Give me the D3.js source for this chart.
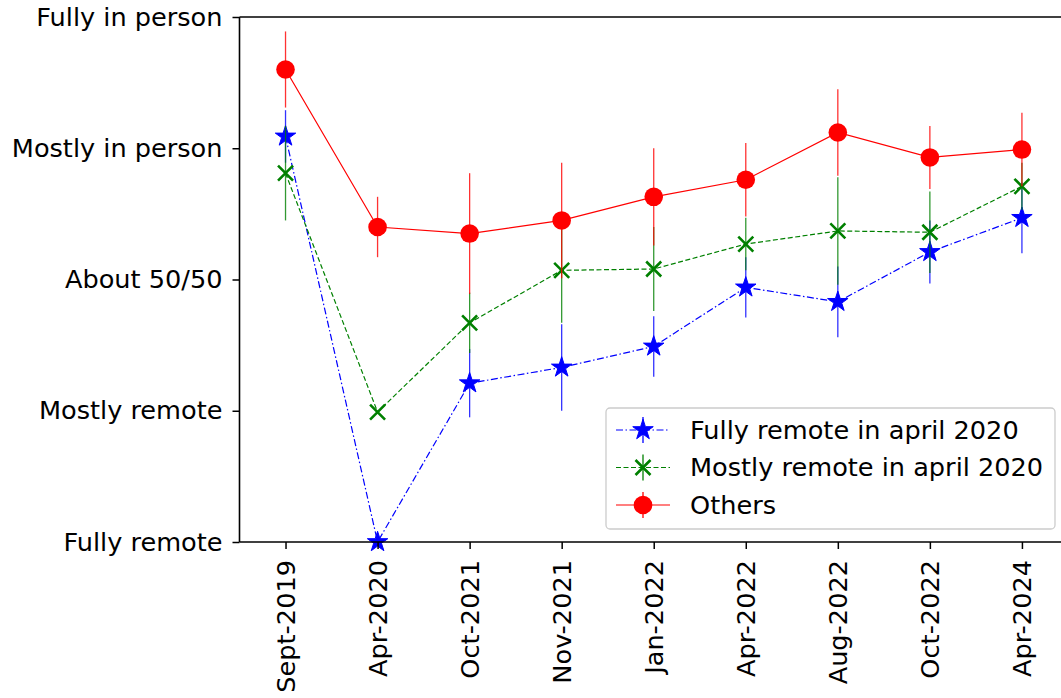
<!DOCTYPE html>
<html><head><meta charset="utf-8">
<script src="https://cdn.jsdelivr.net/npm/d3@7"></script>
<style>body{margin:0;background:#fff}svg{display:block;font-family:"DejaVu Sans",sans-serif}</style>
</head><body><svg id="c" width="1061" height="698"></svg>
<script>
const categories = ["Sept-2019","Apr-2020","Oct-2021","Nov-2021","Jan-2022","Apr-2022","Aug-2022","Oct-2022","Apr-2024"];
const yTickLabels = ["Fully remote","Mostly remote","About 50/50","Mostly in person","Fully in person"];
const fullyRemote = [3.09, 0.0, 1.21, 1.33, 1.49, 1.94, 1.83, 2.21, 2.47];
const fullyRemoteErr = [0.20, 0.0, 0.26, 0.33, 0.23, 0.23, 0.27, 0.24, 0.27];
const mostlyRemote = [2.81, 0.99, 1.67, 2.07, 2.08, 2.27, 2.37, 2.36, 2.71];
const mostlyRemoteErr = [0.36, 0.0, 0.23, 0.40, 0.32, 0.20, 0.41, 0.31, 0.18];
const others = [3.60, 2.40, 2.35, 2.45, 2.63, 2.76, 3.12, 2.93, 2.99];
const othersErr = [0.29, 0.23, 0.46, 0.44, 0.37, 0.28, 0.33, 0.24, 0.28];
const seriesNames = ["Fully remote in april 2020","Mostly remote in april 2020","Others"];

(function(){
const FS = 25.6;
const series = [
  {name: seriesNames[0], values: fullyRemote, err: fullyRemoteErr, color: "#0000ff", dash: "7,2.5,1.5,2.5", marker: "star"},
  {name: seriesNames[1], values: mostlyRemote, err: mostlyRemoteErr, color: "#008000", dash: "5,2.5", marker: "x"},
  {name: seriesNames[2], values: others, err: othersErr, color: "#ff0000", dash: null, marker: "circle"}
];

const svg = d3.select("#c");
const left = 239.5, topY = 17, bottom = 542, step = 92.05;
const x = d3.scaleLinear().domain([-0.5, 8.5]).range([left, left + 9*step]);
const y = d3.scaleLinear().domain([0, 4]).range([bottom, topY]);

function drawMarker(g, type, color, cx, cy) {
  if (type === "star") {
    g.append("path").attr("d", d3.symbol(d3.symbolStar).size(130)())
      .attr("transform", `translate(${cx},${cy})`).attr("fill", color).attr("stroke", color).attr("stroke-width", 1);
  } else if (type === "x") {
    const r = 7.5;
    g.append("path").attr("d", `M${cx-r},${cy-r}L${cx+r},${cy+r}M${cx-r},${cy+r}L${cx+r},${cy-r}`)
      .attr("stroke", color).attr("stroke-width", 2.6).attr("fill", "none");
  } else {
    g.append("circle").attr("cx", cx).attr("cy", cy).attr("r", 9.3).attr("fill", color);
  }
}

const plot = svg.append("g");
series.forEach(s => {
  const g = plot.append("g");
  s.values.forEach((v, i) => {
    if (s.err[i] > 0) {
      g.append("line").attr("x1", x(i)).attr("x2", x(i))
        .attr("y1", y(v - s.err[i])).attr("y2", y(v + s.err[i]))
        .attr("stroke", s.color).attr("stroke-width", 1.3).attr("opacity", 0.8);
    }
  });
  const line = d3.line().x((d, i) => x(i)).y(d => y(d));
  g.append("path").datum(s.values).attr("d", line).attr("fill", "none")
    .attr("stroke", s.color).attr("stroke-width", 1.2)
    .attr("stroke-dasharray", s.dash);
  s.values.forEach((v, i) => drawMarker(g, s.marker, s.color, x(i), y(v)));
});

const yAxis = d3.axisLeft(y).tickValues([0,1,2,3,4]).tickFormat(d => yTickLabels[d]).tickSize(7).tickPadding(10);
const gy = svg.append("g").attr("transform", `translate(${left},0)`).call(yAxis);
gy.select(".domain").remove();
gy.selectAll(".tick line").attr("stroke", "#000").attr("stroke-width", 1.5);
gy.selectAll(".tick text").attr("font-size", FS).attr("fill", "#000").attr("font-family", "DejaVu Sans");

const xAxis = d3.axisBottom(x).tickValues(d3.range(categories.length)).tickFormat(i => categories[i]).tickSize(7).tickPadding(6);
const gx = svg.append("g").attr("transform", `translate(0,${bottom})`).call(xAxis);
gx.select(".domain").remove();
gx.selectAll(".tick line").attr("stroke", "#000").attr("stroke-width", 1.5);
gx.selectAll(".tick text").attr("font-size", FS).attr("fill", "#000").attr("font-family", "DejaVu Sans")
  .attr("transform", "rotate(-90)").attr("text-anchor", "end").attr("x", -18).attr("y", 0).attr("dy", "0.35em");

const sp = svg.append("g").attr("stroke", "#000").attr("stroke-width", 1.6).attr("fill", "none");
sp.append("line").attr("x1", left).attr("x2", left).attr("y1", topY).attr("y2", bottom);
sp.append("line").attr("x1", left).attr("x2", 1061).attr("y1", bottom).attr("y2", bottom);
sp.append("line").attr("x1", left).attr("x2", 1061).attr("y1", topY).attr("y2", topY);

const lg = svg.append("g").attr("transform", "translate(606,408)");
lg.append("rect").attr("x", 0).attr("y", 0).attr("width", 449).attr("height", 121).attr("rx", 4)
  .attr("fill", "#fff").attr("fill-opacity", 0.8).attr("stroke", "#ccc").attr("stroke-width", 1.3);
series.forEach((s, k) => {
  const cy = 22 + k*37.5;
  lg.append("line").attr("x1", 10).attr("x2", 64).attr("y1", cy).attr("y2", cy)
    .attr("stroke", s.color).attr("stroke-width", 1.2).attr("stroke-dasharray", s.dash);
  lg.append("line").attr("x1", 37).attr("x2", 37).attr("y1", cy - 13).attr("y2", cy + 13)
    .attr("stroke", s.color).attr("stroke-width", 1.3);
  drawMarker(lg, s.marker, s.color, 37, cy);
  lg.append("text").attr("x", 84).attr("y", cy).attr("dy", "0.35em").attr("font-size", FS)
    .attr("fill", "#000").text(s.name);
});
})();
</script></body></html>
